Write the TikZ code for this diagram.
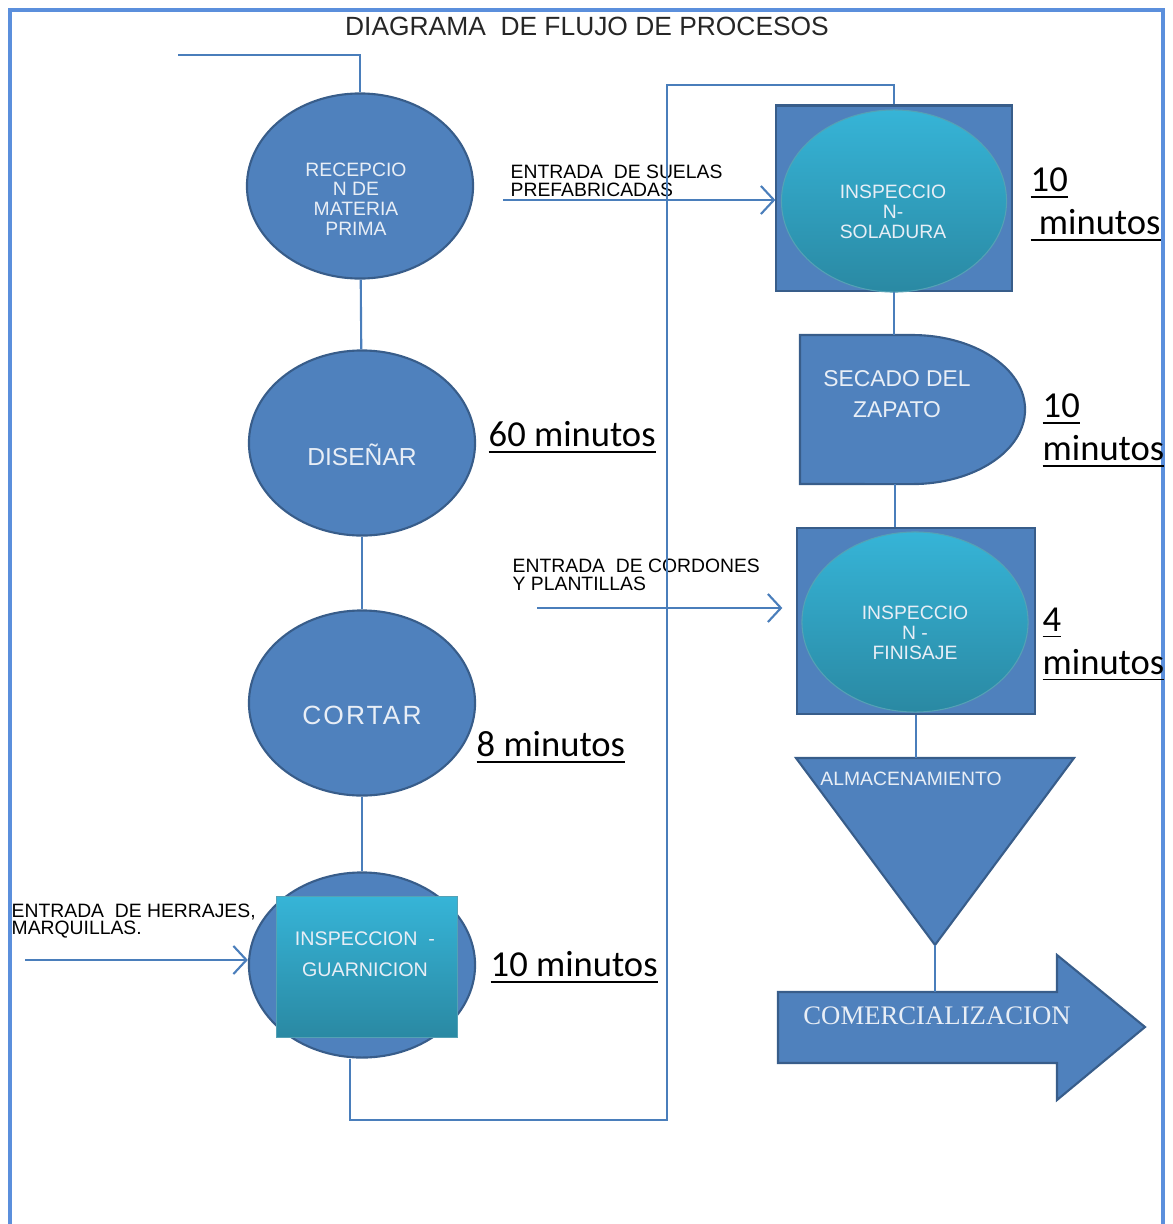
\documentclass[tikz,border=0pt]{standalone}
\usepackage{fontspec}
\setmainfont{Liberation Sans}
\newfontfamily\calibrifont{Carlito}
\newfontfamily\romanfont{Liberation Serif}
\usetikzlibrary{shapes.geometric,arrows.meta,positioning}

\definecolor{azul}{HTML}{4F81BD}
\definecolor{azulborde}{HTML}{385D8A}
\definecolor{azullinea}{HTML}{4A7EBB}
\definecolor{marco}{HTML}{5B8FDC}
\definecolor{turqarriba}{HTML}{36B4D7}
\definecolor{turqabajo}{HTML}{2A89A3}
\definecolor{blanco}{HTML}{E8EEF6}

\tikzset{
  figura/.style={draw=azulborde, fill=azul, line width=0.6pt},
  circulo/.style={figura, ellipse, inner sep=0pt, minimum width=2.26cm, minimum height=1.85cm},
  cuadro/.style={figura, rectangle, inner sep=0pt},
  turquesa/.style={draw=turqabajo!80!white, line width=0.3pt, top color=turqarriba, bottom color=turqabajo, inner sep=0pt},
  texto/.style={text=blanco, align=center, inner sep=0pt, font=\fontsize{5.5}{5.6}\selectfont},
  linea/.style={draw=azullinea, line width=0.6pt},
  flecha/.style={linea, -{Straight Barb[length=1.3mm,width=2.8mm]}},
  tiempo/.style={font=\calibrifont\fontsize{10.4}{12.2}\selectfont, align=left, inner sep=0pt, anchor=west},
  entrada/.style={font=\fontsize{5.5}{5}\selectfont, align=left, inner sep=0pt, anchor=west, text=black}
}

\begin{document}
\begin{tikzpicture}[x=0.01cm,y=-0.01cm]
\useasboundingbox (0,0) rectangle (1173,1224);
% marco y titulo
\draw[marco, line width=0.9pt] (10,1224) -- (10,10) -- (1163,10) -- (1163,1224);
\node[font=\fontsize{7.5}{9}\selectfont, text=black!85] (titulo) at (587,26) {DIAGRAMA\ \ DE FLUJO DE PROCESOS};

% columna izquierda
\node[circulo] (recepcion) at (360,186) {};
\node[texto] (recepcion txt) at (356,199) {RECEPCIO\\N DE\\MATERIA\\PRIMA};
\node[circulo] (disenar) at (362,443) {};
\node[texto, font=\fontsize{7}{8}\selectfont] (disenar txt) at (362,455) {DISEÑAR};
\node[circulo] (cortar) at (362,703) {};
\node[texto, font=\fontsize{7.5}{8}\selectfont\addfontfeature{LetterSpace=8}] (cortar txt) at (362,715) {CORTAR};
\node[circulo] (guarnicion) at (362,965) {};
\node[turquesa, minimum width=1.8cm, minimum height=1.4cm] (guarnicion cuadro) at (367,967) {};
\node[texto, font=\fontsize{5.6}{8.8}\selectfont] (guarnicion txt) at (365,954) {INSPECCION\ \ -\\GUARNICION};

\node[tiempo] (t disenar) at (488,438) {\underline{60 minutos}};
\node[tiempo] (t cortar) at (476,748) {\underline{8 minutos}};
\node[tiempo] (t guarnicion) at (490,968) {\underline{10 minutos}};

% columna derecha
\node[cuadro, minimum width=2.35cm, minimum height=1.85cm] (soladura marco) at (894,198) {};
\node[turquesa, ellipse, minimum width=2.25cm, minimum height=1.82cm] (soladura) at (894,201) {};
\node[texto] (soladura txt) at (893,212) {INSPECCIO\\N-\\SOLADURA};

\path[figura] (800,335) -- (912,335) arc[start angle=90, end angle=-90, x radius=1.13cm, y radius=0.745cm] -- (800,484) -- cycle;
\coordinate (secado arriba) at (894,335);
\coordinate (secado abajo) at (895,484);
\node[texto, font=\fontsize{6.5}{9}\selectfont] (secado txt) at (897,394) {SECADO DEL\\ZAPATO};

\node[cuadro, minimum width=2.37cm, minimum height=1.86cm] (finisaje marco) at (916,621) {};
\node[turquesa, ellipse, minimum width=2.26cm, minimum height=1.80cm] (finisaje) at (915,622) {};
\node[texto] (finisaje txt) at (915,633) {INSPECCIO\\N -\\FINISAJE};

\coordinate (almacen izq) at (796,758);
\coordinate (almacen der) at (1074,758);
\coordinate (almacen punta) at (935,945);
\path[figura] (almacen izq) -- (almacen der) -- (almacen punta) -- cycle;
\node[texto] (almacen txt) at (911,779) {ALMACENAMIENTO};

\coordinate (cuerpo) at (778,992);
\path[figura] (cuerpo) -- (1057,992) -- (1057,955) -- (1145,1027) -- (1057,1100) -- (1057,1063) -- (778,1063) -- cycle;
\node[texto, font=\romanfont\fontsize{7.6}{9}\selectfont] (comercial txt) at (937,1016) {COMERCIALIZACION};

\node[tiempo] (t soladura) at (1030,205) {\underline{10}\\\underline{\ minutos}};
\node[tiempo] (t secado) at (1042,431) {\underline{10}\\\underline{minutos}};
\node[tiempo] (t finisaje) at (1042,645) {\underline{4}\\\underline{minutos}};

% entradas
\coordinate (inicio) at (178,55);
\coordinate (suelas) at (503,200);
\coordinate (cordones) at (537,608);
\coordinate (herrajes) at (25,960);
\node[entrada] (suelas txt) at (510,181) {ENTRADA\ \ DE SUELAS\\PREFABRICADAS};
\node[entrada] (cordones txt) at (512,575) {ENTRADA\ \ DE CORDONES\\Y PLANTILLAS};
\node[entrada] (herrajes txt) at (11,921) {ENTRADA\ \ DE HERRAJES,\\MARQUILLAS.};

% conexiones
\draw[linea] (inicio) -| (recepcion.north);
\draw[linea] (recepcion) -- (disenar);
\draw[linea] (disenar) -- (cortar);
\draw[linea] (cortar) -- (guarnicion);
\coordinate (esquina) at (667,1120);
\coordinate (arriba) at (667,85);
\draw[linea] ([xshift=-0.12cm]guarnicion.south) |- (esquina) -- (arriba) -| (soladura marco.north);
\draw[linea] (soladura marco.south) -- (secado arriba);
\draw[linea] (secado abajo) -- (secado abajo |- finisaje marco.north);
\draw[linea] (finisaje marco.south) -- (finisaje marco.south |- almacen izq);
\draw[linea] (almacen punta) -- (almacen punta |- cuerpo);
\draw[flecha] (suelas) -- (suelas -| soladura marco.west);
\draw[flecha] (cordones) -- ([xshift=-0.14cm]cordones -| finisaje marco.west);
\draw[flecha] (herrajes) -- (herrajes -| guarnicion.west);
\end{tikzpicture}
\end{document}
